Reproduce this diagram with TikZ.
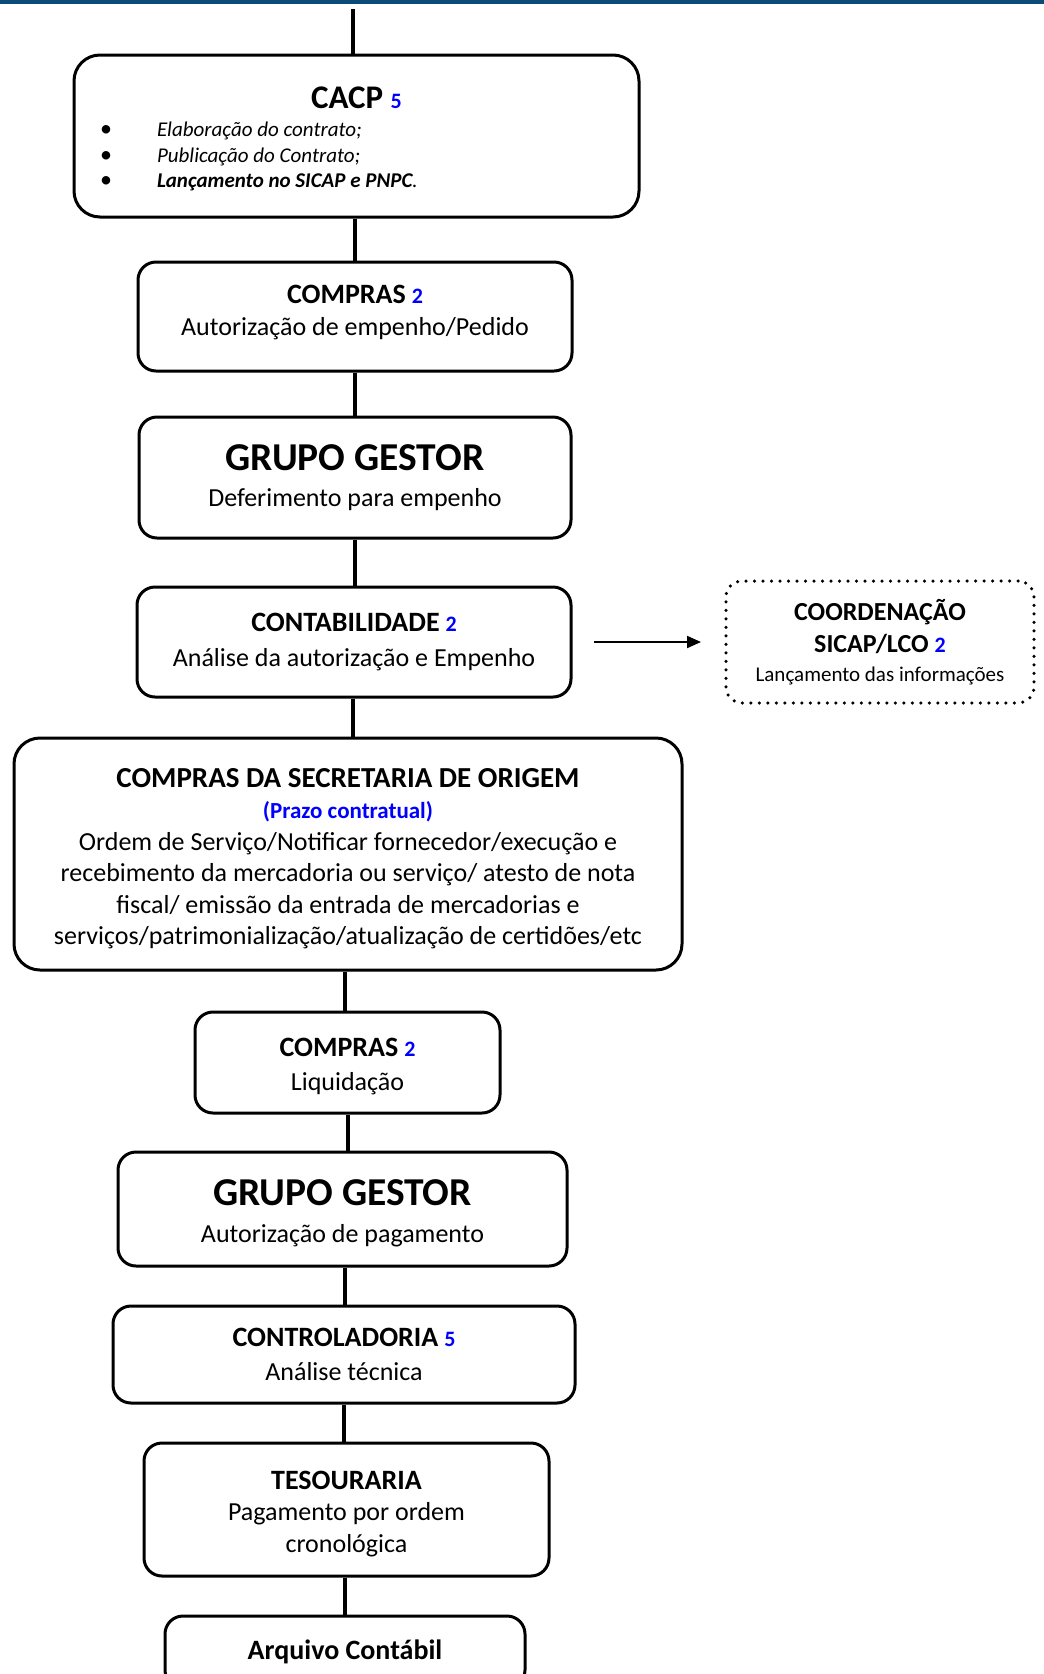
\documentclass[tikz,border=0pt]{standalone}
\usepackage{fontspec}
\setmainfont{Carlito}
\usetikzlibrary{arrows.meta}
\definecolor{barblue}{RGB}{12,74,120}
\definecolor{numblue}{RGB}{0,0,255}
\newcommand{\ttl}[1]{{\fontsize{28}{34}\selectfont\bfseries #1}}
\newcommand{\bigttl}[1]{{\fontsize{39.5}{46}\selectfont\bfseries #1}}
\newcommand{\nr}[1]{{\fontsize{22}{26}\selectfont\bfseries\color{numblue}#1}}
\newcommand{\bodyfont}{\fontsize{26}{31.5}\selectfont}
\newcommand{\bul}{\makebox[57pt][l]{\upshape\fontsize{24}{25.5}\selectfont\textbullet}}
\begin{document}
\begin{tikzpicture}[x=1pt,y=-1pt,
  box/.style={draw, line width=3pt, rounded corners=18pt, align=center, inner sep=0pt, font=\bodyfont},
  bigbox/.style={box, rounded corners=26pt},
  conn/.style={line width=4pt},
  dotbox/.style={draw, line width=3.5pt, dash pattern=on 0pt off 8.5pt, line cap=round, rounded corners=16pt, align=center, inner sep=0pt, font=\fontsize{26}{32}\selectfont}]
\useasboundingbox (0,0) rectangle (1044,1674);
\clip (0,0) rectangle (1044,1674);
\fill[barblue] (0,0) rectangle (1044,4);

% nodes
\node[bigbox, minimum width=565pt, minimum height=162pt] (cacp) at (356.5,136)
 {\parbox{513pt}{\centering\fontsize{33}{40}\selectfont\bfseries\rule{0pt}{27pt}CACP \nr{5}\par
  \vspace{3pt}\raggedright
  \fontsize{21}{25.5}\selectfont\mdseries\itshape
  \bul Elaboração do contrato;\par
  \bul Publicação do Contrato;\par
  \bul\textbf{Lançamento no SICAP e PNPC}.\par}};
\node[box, minimum width=434pt, minimum height=109pt] (c1) at (355,316.5)
 {\ttl{COMPRAS} \nr{2}\\ Autorização de empenho/Pedido\rule[-12pt]{0pt}{12pt}};
\node[box, minimum width=432pt, minimum height=121pt] (gg1) at (355,477.5)
 {\bigttl{GRUPO GESTOR}\\[4pt] Deferimento para empenho};
\node[box, minimum width=434pt, minimum height=110pt] (cont) at (354,642)
 {\ttl{CONTABILIDADE} \nr{2}\\[3pt] Análise da autorização e Empenho};
\node[dotbox, minimum width=308pt, minimum height=122pt] (sicap) at (880,642)
 {\textbf{COORDENAÇÃO}\\
  \textbf{SICAP/LCO} \nr{2}\\[-3pt]
  {\fontsize{21}{26}\selectfont Lançamento das informações}};
\node[bigbox, minimum width=668pt, minimum height=232pt] (cso) at (348,854)
 {{\fontsize{29}{34}\selectfont\bfseries\rule{0pt}{28pt}COMPRAS DA SECRETARIA DE ORIGEM}\\
  {\fontsize{23}{28}\selectfont\bfseries\color{numblue}(Prazo contratual)}\\
  Ordem de Serviço/Notificar fornecedor/execução e\\
  recebimento da mercadoria ou serviço/ atesto de nota\\
  fiscal/ emissão da entrada de mercadorias e\\
  serviços/patrimonialização/atualização de certidões/etc};
\node[box, minimum width=305pt, minimum height=101pt] (c2) at (347.5,1062.5)
 {\rule{0pt}{26pt}\ttl{COMPRAS} \nr{2}\\[3pt] Liquidação};
\node[box, minimum width=449pt, minimum height=114pt] (gg2) at (342.5,1209)
 {\rule{0pt}{34pt}\bigttl{GRUPO GESTOR}\\[5pt] Autorização de pagamento};
\node[box, minimum width=462pt, minimum height=97pt] (ctr) at (344,1354.5)
 {\ttl{CONTROLADORIA} \nr{5}\\[2pt] Análise técnica};
\node[box, minimum width=405pt, minimum height=133pt] (tes) at (346.5,1509.5)
 {\rule{0pt}{27pt}\ttl{TESOURARIA}\\ Pagamento por ordem\\ cronológica};
\node[box, minimum width=360pt, minimum height=72pt] (arq) at (345,1652)
 {\ttl{Arquivo Contábil}};

% connector x positions
\coordinate (top) at (353,9);
\coordinate (xa) at (355,0);
\coordinate (xb) at (353,0);
\coordinate (xc) at (345,0);
\coordinate (xd) at (348,0);
\coordinate (xe) at (344,0);
\draw[conn] (top) -- (cacp.north -| top);
\draw[conn] (cacp.south -| xa) -- (c1.north -| xa);
\draw[conn] (c1.south -| xa) -- (gg1.north -| xa);
\draw[conn] (gg1.south -| xa) -- (cont.north -| xa);
\draw[conn] (cont.south -| xb) -- (cso.north -| xb);
\draw[conn] (cso.south -| xc) -- (c2.north -| xc);
\draw[conn] (c2.south -| xd) -- (gg2.north -| xd);
\draw[conn] (gg2.south -| xc) -- (ctr.north -| xc);
\draw[conn] (ctr.south -| xe) -- (tes.north -| xe);
\draw[conn] (tes.south -| xc) -- (arq.north -| xc);

\coordinate (as) at (594,642);
\coordinate (ae) at (701,642);
\draw[line width=2pt, -{Triangle[length=14pt,width=12pt]}] (as) -- (ae);
\end{tikzpicture}
\end{document}
